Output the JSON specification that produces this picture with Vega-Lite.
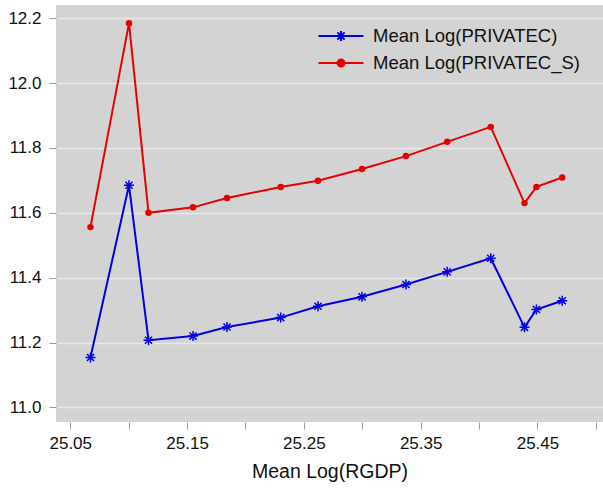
{
  "$schema": "https://vega.github.io/schema/vega-lite/v6.json",
  "autosize": {"type": "none"},
  "width": 547,
  "height": 417,
  "padding": {"left": 56, "top": 5, "right": 0, "bottom": 67},
  "background": "white",
  "config": {
    "view": {"fill": "#d3d3d3", "stroke": null},
    "font": "Liberation Sans"
  },
  "data": {
    "values": [
      {"rgdp": 25.0673, "series": "Mean Log(PRIVATEC)", "value": 11.154},
      {"rgdp": 25.1003, "series": "Mean Log(PRIVATEC)", "value": 11.685},
      {"rgdp": 25.1170, "series": "Mean Log(PRIVATEC)", "value": 11.207},
      {"rgdp": 25.1551, "series": "Mean Log(PRIVATEC)", "value": 11.220},
      {"rgdp": 25.1842, "series": "Mean Log(PRIVATEC)", "value": 11.248},
      {"rgdp": 25.2302, "series": "Mean Log(PRIVATEC)", "value": 11.277},
      {"rgdp": 25.2621, "series": "Mean Log(PRIVATEC)", "value": 11.312},
      {"rgdp": 25.2998, "series": "Mean Log(PRIVATEC)", "value": 11.341},
      {"rgdp": 25.3374, "series": "Mean Log(PRIVATEC)", "value": 11.379},
      {"rgdp": 25.3727, "series": "Mean Log(PRIVATEC)", "value": 11.418},
      {"rgdp": 25.4100, "series": "Mean Log(PRIVATEC)", "value": 11.460},
      {"rgdp": 25.4389, "series": "Mean Log(PRIVATEC)", "value": 11.247},
      {"rgdp": 25.4491, "series": "Mean Log(PRIVATEC)", "value": 11.302},
      {"rgdp": 25.4712, "series": "Mean Log(PRIVATEC)", "value": 11.329},
      {"rgdp": 25.0673, "series": "Mean Log(PRIVATEC_S)", "value": 11.556},
      {"rgdp": 25.1003, "series": "Mean Log(PRIVATEC_S)", "value": 12.185},
      {"rgdp": 25.1170, "series": "Mean Log(PRIVATEC_S)", "value": 11.600},
      {"rgdp": 25.1551, "series": "Mean Log(PRIVATEC_S)", "value": 11.617},
      {"rgdp": 25.1842, "series": "Mean Log(PRIVATEC_S)", "value": 11.646},
      {"rgdp": 25.2302, "series": "Mean Log(PRIVATEC_S)", "value": 11.680},
      {"rgdp": 25.2621, "series": "Mean Log(PRIVATEC_S)", "value": 11.699},
      {"rgdp": 25.2998, "series": "Mean Log(PRIVATEC_S)", "value": 11.735},
      {"rgdp": 25.3374, "series": "Mean Log(PRIVATEC_S)", "value": 11.775},
      {"rgdp": 25.3727, "series": "Mean Log(PRIVATEC_S)", "value": 11.819},
      {"rgdp": 25.4100, "series": "Mean Log(PRIVATEC_S)", "value": 11.865},
      {"rgdp": 25.4389, "series": "Mean Log(PRIVATEC_S)", "value": 11.630},
      {"rgdp": 25.4491, "series": "Mean Log(PRIVATEC_S)", "value": 11.680},
      {"rgdp": 25.4712, "series": "Mean Log(PRIVATEC_S)", "value": 11.709}
    ]
  },
  "encoding": {
    "x": {
      "field": "rgdp",
      "type": "quantitative",
      "scale": {"domain": [25.0378, 25.5061], "nice": false, "zero": false},
      "axis": {
        "title": "Mean Log(RGDP)",
        "values": [25.05, 25.1, 25.15, 25.2, 25.25, 25.3, 25.35, 25.4, 25.45, 25.5],
        "labelExpr": "round(datum.value*100) % 10 == 5 ? format(datum.value, '.2f') : ''",
        "labelOverlap": false,
        "labelFlush": false,
        "grid": false,
        "domain": false,
        "ticks": true,
        "tickSize": 7,
        "tickColor": "#9a9a9a",
        "tickWidth": 1,
        "labelFont": "Liberation Sans",
        "labelFontSize": 17,
        "labelColor": "#111111",
        "labelPadding": 6,
        "titleFont": "Liberation Sans",
        "titleFontSize": 19.5,
        "titleFontWeight": "normal",
        "titleColor": "#111111",
        "titlePadding": 11
      }
    },
    "y": {
      "field": "value",
      "type": "quantitative",
      "scale": {"domain": [10.955, 12.241], "nice": false, "zero": false},
      "axis": {
        "title": null,
        "values": [11.0, 11.2, 11.4, 11.6, 11.8, 12.0, 12.2],
        "format": ".1f",
        "grid": true,
        "gridColor": "#e8e8e8",
        "gridWidth": 1.5,
        "domain": false,
        "tickSize": 7,
        "tickColor": "#9a9a9a",
        "tickWidth": 1,
        "labelFont": "Liberation Sans",
        "labelFontSize": 17,
        "labelColor": "#111111",
        "labelPadding": 8,
        "labelOverlap": false
      }
    }
  },
  "layer": [
    {
      "mark": {"type": "line", "strokeWidth": 2},
      "encoding": {
        "color": {
          "field": "series",
          "type": "nominal",
          "scale": {"domain": ["Mean Log(PRIVATEC)", "Mean Log(PRIVATEC_S)"], "range": ["#0000e6", "#e60000"]},
          "legend": {
            "title": null,
            "orient": "none",
            "legendX": 274,
            "legendY": 20,
            "padding": 0,
            "symbolSize": 400,
            "symbolStrokeWidth": 2,
            "labelFont": "Liberation Sans",
            "labelFontSize": 18.5,
            "labelColor": "#111111",
            "labelOffset": 21,
            "rowPadding": 6,
            "labelLimit": 400,
            "encode": {
              "symbols": {
                "update": {
                  "shape": {"signal": "datum.value == 'Mean Log(PRIVATEC_S)' ? 'M-2.25,0H2.25M0.35,0A0.35,0.35,0,1,1,-0.35,0A0.35,0.35,0,1,1,0.35,0Z' : 'M-2.25,0H2.25M0,-0.5V0.5M-0.5,0H0.5M-0.36,-0.36L0.36,0.36M-0.36,0.36L0.36,-0.36'"},
                  "fill": {"signal": "datum.value == 'Mean Log(PRIVATEC_S)' ? '#e60000' : 'transparent'"},
                  "strokeWidth": {"value": 2}
                }
              }
            }
          }
        }
      }
    },
    {
      "transform": [{"filter": "datum.series == 'Mean Log(PRIVATEC)'"}],
      "mark": {
        "type": "point",
        "shape": "M0,-1V1M-1,0H1M-0.71,-0.71L0.71,0.71M-0.71,0.71L0.71,-0.71",
        "filled": false,
        "stroke": "#0000e6",
        "strokeWidth": 1.5,
        "size": 100,
        "opacity": 1
      }
    },
    {
      "transform": [{"filter": "datum.series == 'Mean Log(PRIVATEC_S)'"}],
      "mark": {
        "type": "circle",
        "color": "#e60000",
        "size": 42,
        "opacity": 1
      }
    }
  ]
}
